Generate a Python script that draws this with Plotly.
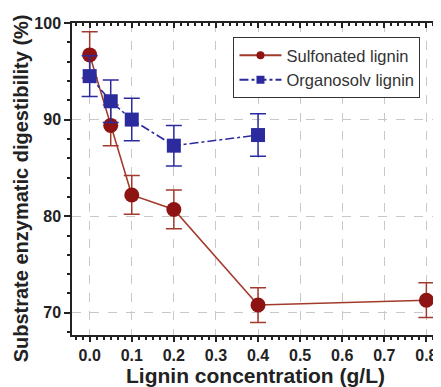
import plotly.graph_objects as go

x_sulf = [0.0, 0.05, 0.1, 0.2, 0.4, 0.8]
y_sulf = [96.7, 89.4, 82.2, 80.7, 70.8, 71.3]
e_sulf = [2.4, 2.1, 2.0, 2.0, 1.8, 1.8]

x_org = [0.0, 0.05, 0.1, 0.2, 0.4]
y_org = [94.5, 91.9, 90.0, 87.3, 88.4]
e_org = [2.1, 2.2, 2.2, 2.1, 2.2]

x_ticks = [0.0, 0.1, 0.2, 0.3, 0.4, 0.5, 0.6, 0.7, 0.8]
y_ticks = [70, 80, 90, 100]

red_line = "#a23a2c"
red_mark = "#8e1414"
blue = "#2b2b9e"
ink = "#222"
FAM = "Liberation Sans, Arial"

fig = go.Figure()
fig.add_trace(go.Scatter(
    x=x_sulf, y=y_sulf, name="Sulfonated lignin", mode="lines+markers", showlegend=False,
    line=dict(color=red_line, width=1.6),
    marker=dict(symbol="circle", size=15, color=red_mark, line=dict(width=0)),
    error_y=dict(type="data", array=e_sulf, color=red_line, thickness=1.5, width=8),
))
fig.add_trace(go.Scatter(
    x=x_org, y=y_org, name="Organosolv lignin", mode="lines+markers", showlegend=False,
    line=dict(color=blue, width=1.6, dash="dashdot"),
    marker=dict(symbol="square", size=14, color=blue, line=dict(width=0)),
    error_y=dict(type="data", array=e_org, color=blue, thickness=1.5, width=8),
))
# legend entries with small markers
fig.add_trace(go.Scatter(x=[None], y=[None], name="Sulfonated lignin", mode="lines+markers",
                         line=dict(color=red_line, width=2), marker=dict(size=8, color=red_mark)))
fig.add_trace(go.Scatter(x=[None], y=[None], name="Organosolv lignin", mode="lines+markers",
                         line=dict(color=blue, width=2, dash="dashdot"),
                         marker=dict(size=8, symbol="square", color=blue)))
# top / right axes (ticks only)
fig.add_trace(go.Scatter(x=[0.0], y=[100], xaxis="x2", yaxis="y2", mode="markers",
                         marker=dict(opacity=0), showlegend=False, hoverinfo="skip"))

tickfont = dict(family=FAM, size=16, color=ink, weight="bold")
x_minor = 0.1 / 6
# page body adds an 8px offset, so the figure is 8px smaller and margins shifted
fig.update_layout(
    width=433, height=379,
    margin=dict(l=64, r=2, t=15, b=52),
    paper_bgcolor="white", plot_bgcolor="white",
    font=dict(family=FAM, color=ink),
    xaxis=dict(
        range=[-0.042, 0.83], tickvals=x_ticks, ticktext=[f"{v:.1f}" for v in x_ticks],
        tickfont=tickfont, ticks="outside", ticklen=5, tickwidth=1.5, tickcolor=ink,
        minor=dict(dtick=x_minor, tick0=0, ticks="outside", ticklen=3, tickcolor=ink, showgrid=False),
        showline=True, linecolor=ink, linewidth=1.5,
        showgrid=True, gridcolor="#c8c8c8", griddash="dash", gridwidth=1,
        zeroline=False, automargin=False,
        title=dict(text="Lignin concentration (g/L)", standoff=2,
                   font=dict(family=FAM, size=21, color=ink, weight="bold")),
    ),
    yaxis=dict(
        range=[67.7, 100], tickvals=y_ticks, tickfont=tickfont,
        ticks="outside", ticklen=6, tickwidth=1.5, tickcolor=ink,
        minor=dict(dtick=2, ticks="outside", ticklen=3, tickcolor=ink, showgrid=False),
        showline=True, linecolor=ink, linewidth=1.5,
        showgrid=True, gridcolor="#c8c8c8", griddash="dash", gridwidth=1,
        zeroline=False, automargin=False,
    ),
    xaxis2=dict(
        overlaying="x", side="top", range=[-0.042, 0.83], tickvals=x_ticks,
        showticklabels=False, ticks="inside", ticklen=5, tickwidth=1.5, tickcolor=ink,
        minor=dict(dtick=x_minor, tick0=0, ticks="inside", ticklen=3, tickcolor=ink),
        showline=True, linecolor=ink, linewidth=1.5, showgrid=False, zeroline=False,
        automargin=False,
    ),
    yaxis2=dict(
        overlaying="y", side="right", range=[67.7, 100], tickvals=y_ticks,
        showticklabels=False, ticks="inside", ticklen=5, tickwidth=1.5, tickcolor=ink,
        minor=dict(dtick=2, ticks="inside", ticklen=3, tickcolor=ink),
        showline=True, linecolor=ink, linewidth=1.5, showgrid=False, zeroline=False,
        automargin=False,
    ),
    legend=dict(
        x=0.44, y=0.955, xanchor="left", yanchor="top",
        bgcolor="white", bordercolor="#333", borderwidth=1,
        font=dict(family=FAM, size=16.5, color="#333"),
        tracegroupgap=0, itemwidth=42,
    ),
    annotations=[dict(
        text="Substrate enzymatic digestibility (%)", textangle=-90,
        xref="paper", yref="paper", x=-0.139, y=0.47,
        xanchor="center", yanchor="middle", showarrow=False,
        font=dict(family=FAM, size=20, color=ink, weight="bold"),
    )],
    showlegend=True,
)
fig.write_html("out.html")
